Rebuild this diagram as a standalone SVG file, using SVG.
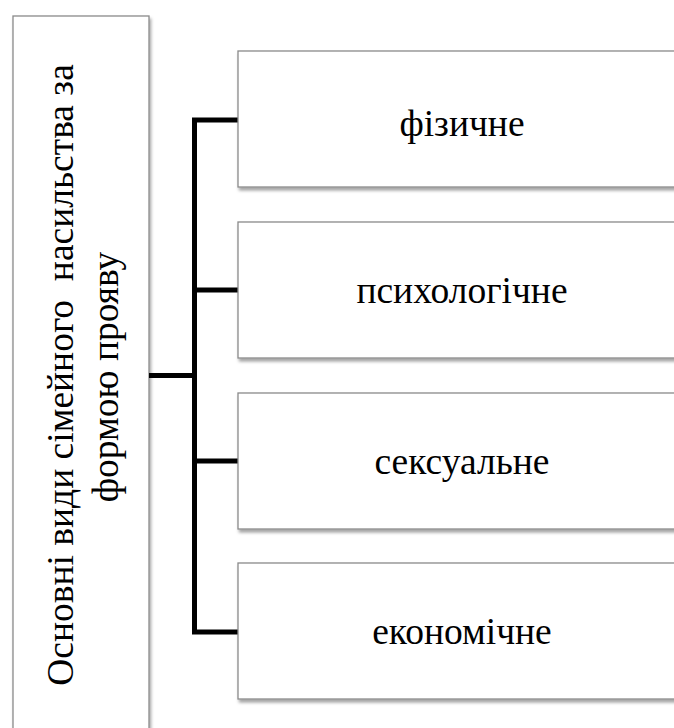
<svg xmlns="http://www.w3.org/2000/svg" width="674" height="728" viewBox="0 0 674 728">
<defs>
<filter id="sh" x="-10%" y="-10%" width="130%" height="130%">
<feDropShadow dx="1.5" dy="3" stdDeviation="1.8" flood-color="#000" flood-opacity="0.35"/>
</filter>
</defs>
<style>
.box{fill:#fff;stroke:#8a8a8a;stroke-width:1.3;filter:url(#sh)}
.lbl{font-family:"Liberation Serif","Times New Roman",serif;font-size:37.5px;fill:#000;text-anchor:middle}
.vl{font-family:"Liberation Serif","Times New Roman",serif;font-size:37.5px;fill:#000;text-anchor:middle;white-space:pre}
.conn{fill:none;stroke:#000;stroke-width:5;stroke-linejoin:miter}
</style>
<rect width="674" height="728" fill="#fff"/>
<g id="root">
<rect class="box" x="13" y="16" width="136" height="730"/>
<text class="vl" transform="translate(73,375) rotate(-90)" xml:space="preserve">Основні види сімейного  насильства за</text>
<text class="vl" transform="translate(118,377) rotate(-90)">формою прояву</text>
</g>
<g id="connectors">
<path class="conn" d="M149,375.5 H194.5"/>
<path class="conn" d="M238,120 H194.5 V632 H238"/>
<path class="conn" d="M194.5,290 H238"/>
<path class="conn" d="M194.5,461 H238"/>
</g>
<g id="n1">
<rect class="box" x="238" y="51" width="450" height="136"/>
<text class="lbl" x="462" y="136">фізичне</text>
</g>
<g id="n2">
<rect class="box" x="238" y="222" width="450" height="136"/>
<text class="lbl" x="462" y="303">психологічне</text>
</g>
<g id="n3">
<rect class="box" x="238" y="393" width="450" height="136"/>
<text class="lbl" x="462" y="474">сексуальне</text>
</g>
<g id="n4">
<rect class="box" x="238" y="563" width="450" height="136"/>
<text class="lbl" x="462" y="644">економічне</text>
</g>
</svg>
